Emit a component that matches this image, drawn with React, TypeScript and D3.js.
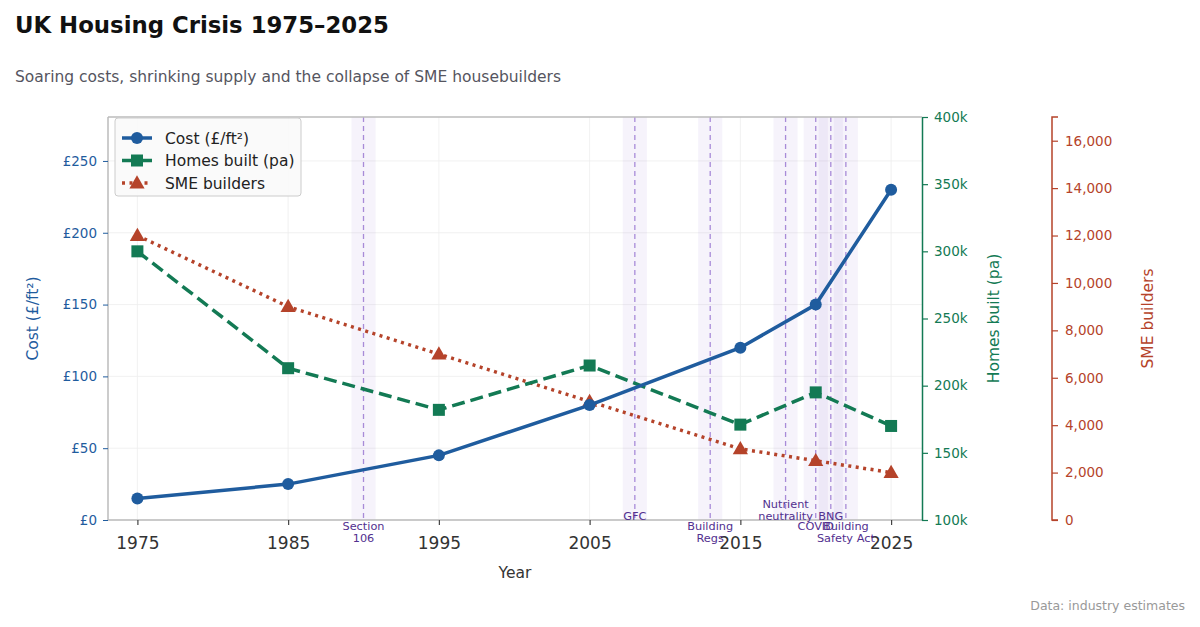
import React, { useEffect, useRef } from 'react';
import * as d3 from 'd3';

const years = [1975, 1985, 1995, 2005, 2015, 2020, 2025];
const costValues = [15, 25, 45, 80, 120, 150, 230];
const homesValues = [300000, 213000, 182000, 215000, 171000, 195000, 170000];
const smeValues = [12000, 9000, 7000, 5000, 3000, 2500, 2000];

const eventYears = [1990, 2008, 2013, 2018, 2020, 2021, 2022];
const eventLabels = ['Section\n106', 'GFC', 'Building\nRegs', 'Nutrient\nneutrality', 'COVID', 'BNG', 'Building\nSafety Act'];

const xTicks = [1975, 1985, 1995, 2005, 2015, 2025];
const costTicks = [0, 50, 100, 150, 200, 250];
const homesTicks = [100000, 150000, 200000, 250000, 300000, 350000, 400000];
const smeTicks = [0, 2000, 4000, 6000, 8000, 10000, 12000, 14000, 16000];

const BLUE = '#1f5c9e';
const GREEN = '#137a54';
const RED = '#b5432a';
const FONT = 'DejaVu Sans, sans-serif';

const App = () => {
  const ref = useRef(null);

  useEffect(() => {
    document.body.style.margin = '0';
    const svg = d3.select(ref.current).attr('width', 1200).attr('height', 627).style('background', '#fff');
    svg.selectAll('*').remove();

    const m = { left: 108, right: 922, top: 117, bottom: 520 };
    const x = d3.scaleLinear().domain([1973.05, 2027.05]).range([m.left, m.right]);
    const yCost = d3.scaleLinear().domain([0, 280.6]).range([m.bottom, m.top]);
    const yHomes = d3.scaleLinear().domain([100000, 400000]).range([m.bottom, m.top]);
    const ySme = d3.scaleLinear().domain([0, 17000]).range([m.bottom, m.top]);

    // titles
    svg.append('text').attr('x', 15).attr('y', 33).text('UK Housing Crisis 1975–2025')
      .style('font-family', FONT).style('font-weight', 'bold').style('font-size', '22.8px').style('fill', '#111');
    svg.append('text').attr('x', 15).attr('y', 82).text('Soaring costs, shrinking supply and the collapse of SME housebuilders')
      .style('font-family', FONT).style('font-size', '15.5px').style('fill', '#555560');
    svg.append('text').attr('x', 1185).attr('y', 610).attr('text-anchor', 'end').text('Data: industry estimates')
      .style('font-family', FONT).style('font-size', '12.5px').style('fill', '#999');

    // grid
    const grid = svg.append('g');
    xTicks.forEach(t => grid.append('line').attr('x1', x(t)).attr('x2', x(t)).attr('y1', m.top).attr('y2', m.bottom)
      .attr('stroke', '#eee').attr('stroke-width', 0.8));
    costTicks.forEach(t => grid.append('line').attr('x1', m.left).attr('x2', m.right).attr('y1', yCost(t)).attr('y2', yCost(t))
      .attr('stroke', '#eee').attr('stroke-width', 0.8));

    // event bands
    const ev = svg.append('g');
    eventYears.forEach((yr) => {
      ev.append('rect').attr('x', x(yr - 0.8)).attr('width', x(yr + 0.8) - x(yr - 0.8))
        .attr('y', m.top).attr('height', m.bottom - m.top).attr('fill', '#9b7fd0').attr('opacity', 0.09);
      ev.append('line').attr('x1', x(yr)).attr('x2', x(yr)).attr('y1', m.top).attr('y2', m.bottom)
        .attr('stroke', '#a88bd8').attr('stroke-width', 1.3).attr('stroke-dasharray', '5,4');
    });

    // frame
    svg.append('line').attr('x1', m.left).attr('x2', m.right).attr('y1', m.top).attr('y2', m.top).attr('stroke', '#bbb').attr('stroke-width', 1.5);
    svg.append('line').attr('x1', m.left).attr('x2', m.right).attr('y1', m.bottom).attr('y2', m.bottom).attr('stroke', '#bbb').attr('stroke-width', 1.5);
    svg.append('line').attr('x1', m.left).attr('x2', m.left).attr('y1', m.top).attr('y2', m.bottom).attr('stroke', '#bbb').attr('stroke-width', 1.5);

    // x axis
    const xa = svg.append('g').attr('transform', `translate(0,${m.bottom})`)
      .call(d3.axisBottom(x).tickValues(xTicks).tickFormat(d3.format('d')).tickSize(5).tickPadding(12));
    xa.select('.domain').remove();
    xa.selectAll('line').attr('stroke', '#444').attr('stroke-width', 1.2);
    xa.selectAll('text').style('font-family', FONT).style('font-size', '17px').style('fill', '#333');
    svg.append('text').attr('x', (m.left + m.right) / 2).attr('y', 578).attr('text-anchor', 'middle').text('Year')
      .style('font-family', FONT).style('font-size', '15.5px').style('fill', '#333');

    // left axis
    const la = svg.append('g').attr('transform', `translate(${m.left},0)`)
      .call(d3.axisLeft(yCost).tickValues(costTicks).tickFormat(d => `£${d}`).tickSize(5).tickPadding(6));
    la.select('.domain').remove();
    la.selectAll('line').attr('stroke', BLUE);
    la.selectAll('text').style('font-family', FONT).style('font-size', '13.5px').style('fill', BLUE);
    svg.append('text').attr('transform', `translate(38,${(m.top + m.bottom) / 2}) rotate(-90)`).attr('text-anchor', 'middle')
      .text('Cost (£/ft²)').style('font-family', FONT).style('font-size', '15.5px').style('fill', BLUE);

    // homes axis
    const ha = svg.append('g').attr('transform', `translate(${m.right},0)`)
      .call(d3.axisRight(yHomes).tickValues(homesTicks).tickFormat(d => `${d / 1000}k`).tickSize(6).tickSizeOuter(0).tickPadding(6));
    ha.select('.domain').attr('stroke', GREEN).attr('stroke-width', 1.5);
    ha.selectAll('line').attr('stroke', GREEN).attr('stroke-width', 1.2);
    ha.selectAll('text').style('font-family', FONT).style('font-size', '13.5px').style('fill', GREEN);
    svg.append('text').attr('transform', `translate(999,${(m.top + m.bottom) / 2}) rotate(-90)`).attr('text-anchor', 'middle')
      .text('Homes built (pa)').style('font-family', FONT).style('font-size', '15.5px').style('fill', GREEN);

    // SME axis
    const sa = svg.append('g').attr('transform', `translate(1052,0)`)
      .call(d3.axisRight(ySme).tickValues(smeTicks).tickFormat(d3.format(',')).tickSize(6).tickSizeOuter(0).tickPadding(7));
    sa.select('.domain').attr('stroke', RED).attr('stroke-width', 1.5).attr('d', `M6,${m.top}H0V${m.bottom}H6`);
    sa.selectAll('line').attr('stroke', RED).attr('stroke-width', 1.2);
    sa.selectAll('text').style('font-family', FONT).style('font-size', '13.5px').style('fill', RED);
    svg.append('text').attr('transform', `translate(1153,${(m.top + m.bottom) / 2}) rotate(-90)`).attr('text-anchor', 'middle')
      .text('SME builders').style('font-family', FONT).style('font-size', '15.5px').style('fill', RED);

    // event labels, alternating below / above the x axis
    eventYears.forEach((yr, i) => {
      const lines = eventLabels[i].split('\n');
      const below = i % 2 === 0;
      const t = svg.append('text').attr('text-anchor', 'middle')
        .style('font-family', FONT).style('font-size', '11.3px').style('fill', '#52308f');
      lines.forEach((ln, j) => {
        const yy = below ? m.bottom + 10 + j * 12 : m.bottom - 0.5 - (lines.length - 1 - j) * 11.5;
        t.append('tspan').attr('x', x(yr)).attr('y', yy).text(ln);
      });
    });

    // series
    const pts = (vals, yS) => years.map((yr, i) => [x(yr), yS(vals[i])]);
    const line = d3.line();
    const series = svg.append('g');

    series.append('path').attr('d', line(pts(smeValues, ySme))).attr('fill', 'none').attr('stroke', RED)
      .attr('stroke-width', 3.5).attr('stroke-dasharray', '3,4.5');
    pts(smeValues, ySme).forEach(p => series.append('path')
      .attr('d', d3.symbol(d3.symbolTriangle, 100)()).attr('transform', `translate(${p[0]},${p[1] + 1})`).attr('fill', RED));

    series.append('path').attr('d', line(pts(homesValues, yHomes))).attr('fill', 'none').attr('stroke', GREEN)
      .attr('stroke-width', 3.5).attr('stroke-dasharray', '13,6');
    pts(homesValues, yHomes).forEach(p => series.append('rect')
      .attr('x', p[0] - 6).attr('y', p[1] - 6).attr('width', 12).attr('height', 12).attr('fill', GREEN));

    series.append('path').attr('d', line(pts(costValues, yCost))).attr('fill', 'none').attr('stroke', BLUE)
      .attr('stroke-width', 3.5);
    pts(costValues, yCost).forEach(p => series.append('circle')
      .attr('cx', p[0]).attr('cy', p[1]).attr('r', 6).attr('fill', BLUE));

    // legend
    const lg = svg.append('g').attr('transform', 'translate(115,118)');
    lg.append('rect').attr('width', 186).attr('height', 78).attr('rx', 3).attr('fill', '#fafafa').attr('fill-opacity', 0.9)
      .attr('stroke', '#ccc');
    const items = [
      { label: 'Cost (£/ft²)', color: BLUE, dash: null, mark: 'circle' },
      { label: 'Homes built (pa)', color: GREEN, dash: '13,6', mark: 'square' },
      { label: 'SME builders', color: RED, dash: '3,4.5', mark: 'triangle' },
    ];
    items.forEach((it, i) => {
      const cy = 20 + i * 22.5;
      const l = lg.append('line').attr('x1', 7).attr('x2', 37).attr('y1', cy).attr('y2', cy)
        .attr('stroke', it.color).attr('stroke-width', 3.5);
      if (it.dash) l.attr('stroke-dasharray', it.dash);
      if (it.mark === 'circle') lg.append('circle').attr('cx', 22).attr('cy', cy).attr('r', 6).attr('fill', it.color);
      if (it.mark === 'square') lg.append('rect').attr('x', 16).attr('y', cy - 6).attr('width', 12).attr('height', 12).attr('fill', it.color);
      if (it.mark === 'triangle') lg.append('path').attr('d', d3.symbol(d3.symbolTriangle, 100)())
        .attr('transform', `translate(22,${cy + 1})`).attr('fill', it.color);
      lg.append('text').attr('x', 50).attr('y', cy + 5.5).text(it.label)
        .style('font-family', FONT).style('font-size', '15.5px').style('fill', '#222');
    });
  }, []);

  return <svg ref={ref}></svg>;
};

export default App;
